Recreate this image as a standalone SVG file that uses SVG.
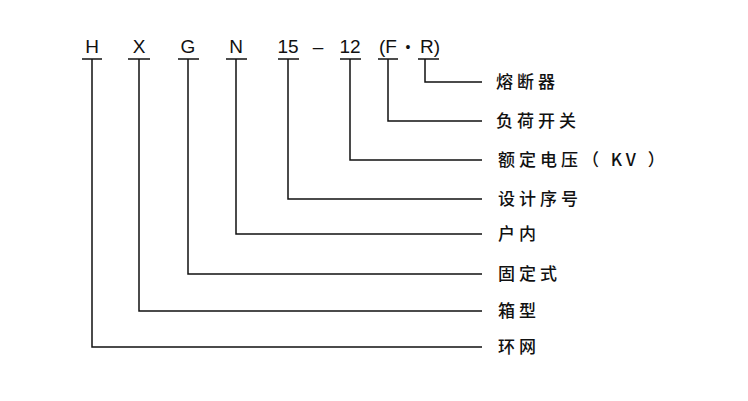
<svg xmlns="http://www.w3.org/2000/svg" width="748" height="401" viewBox="0 0 748 401">
<style>
.c{font-family:"Liberation Sans",Arial,sans-serif;font-size:19px;fill:#111;text-anchor:middle}
.l{font-family:"Noto Sans CJK SC","Liberation Sans",sans-serif;font-size:17px;font-weight:500;fill:#111;letter-spacing:4px}
line,polyline{stroke:#111;stroke-width:1.5;fill:none}
</style>
<rect width="748" height="401" fill="#fff"/>
<g id="code">
<text class="c" x="92" y="53">H</text>
<text class="c" x="139" y="53">X</text>
<text class="c" x="188" y="53">G</text>
<text class="c" x="236" y="53">N</text>
<text class="c" x="288" y="53">15</text>
<text class="c" x="318" y="53">–</text>
<text class="c" x="350" y="53">12</text>
<text class="c" x="388" y="53">(F</text>
<text class="c" x="408" y="52" style="font-size:14px">•</text>
<text class="c" x="430" y="53">R)</text>
</g>
<g id="connectors">
<line x1="82" y1="59" x2="102" y2="59"/><polyline points="92,59 92,347 482,347"/>
<line x1="128" y1="59" x2="150" y2="59"/><polyline points="139,59 139,311 482,311"/>
<line x1="178" y1="59" x2="199" y2="59"/><polyline points="188,59 188,274 482,274"/>
<line x1="226" y1="59" x2="247" y2="59"/><polyline points="236,59 236,234 482,234"/>
<line x1="278" y1="59" x2="299" y2="59"/><polyline points="288,59 288,199 482,199"/>
<line x1="340" y1="59" x2="361" y2="59"/><polyline points="350,59 350,160 482,160"/>
<line x1="378" y1="59" x2="398" y2="59"/><polyline points="388,59 388,121 482,121"/>
<line x1="418" y1="59" x2="439" y2="59"/><polyline points="425,59 425,82 482,82"/>
</g>
<g id="labels">
<text class="l" x="496" y="88">熔断器</text>
<text class="l" x="496" y="127">负荷开关</text>
<text class="l" x="498" y="166">额定电压（ KV ）</text>
<text class="l" x="498" y="205">设计序号</text>
<text class="l" x="498" y="240">户内</text>
<text class="l" x="498" y="280">固定式</text>
<text class="l" x="498" y="317">箱型</text>
<text class="l" x="498" y="353">环网</text>
</g>
</svg>
